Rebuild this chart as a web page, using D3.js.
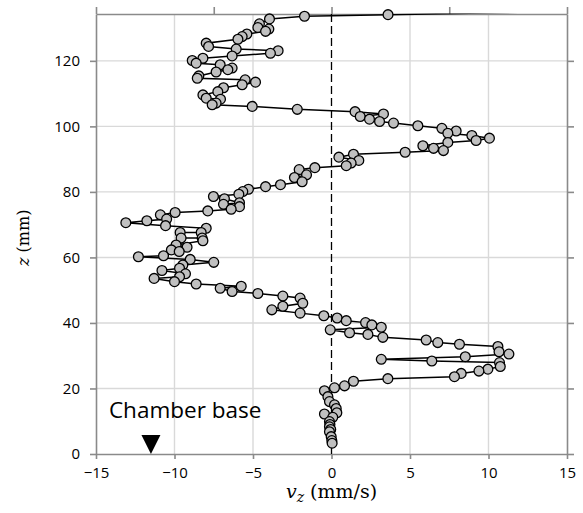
<!DOCTYPE html>
<html>
<head>
<meta charset="utf-8">
<script src="https://cdn.jsdelivr.net/npm/d3@7"></script>
<style>
  body { margin: 0; background: #fff; }
  svg { display: block; }
</style>
</head>
<body>
<div id="chart"></div>
<script>
// velocity profile, listed top of the column down to the base
const vz = [
  25, 3.6, -1.72, -3.95, -4.59, -4.69, -3.99, -4.2, -5.39, -5.69, -5.96,
  -7.98, -7.83, -6.07, -3.4, -3.89, -6.33, -8.19, -8.87, -8.62, -7.09,
  -6.33, -6.6, -7.35, -8.45, -8.55, -5.5, -4.84, -5.69, -6.88, -7.24,
  -8.19, -7.98, -7.07, -7.35, -7.6, -5.05, -2.18, 1.5, 3.31, 1.83,
  2.42, 3.06, 3.95, 5.5, 7.03, 7.94, 7.41, 8.94, 10.06, 9.21,
  7.41, 5.82, 6.5, 7.13, 4.69, 1.4, 0.47, 1.74, 1.25, 0.94,
  -1.06, -2.06, -1.59, -2.36, -1.87, -3.25, -4.2, -5.29, -5.65, -5.9,
  -7.52, -6.82, -5.86, -6.88, -5.86, -6.39, -7.88, -9.96, -10.9, -10.5,
  -11.76, -13.1, -10.57, -7.98, -8.3, -9.64, -9.58, -8.24, -8.19, -9.9,
  -9.2, -10.2, -9.7, -10.7, -12.3, -9.0, -7.5, -9.47, -9.68, -10.8,
  -9.3, -9.68, -11.3, -10.0, -8.62, -5.75, -7.09, -6.33, -4.69, -3.1,
  -2.0, -1.83, -3.1, -3.8, -2.0, -0.49, 0.36, 0.94, 2.17, 2.57,
  3.17, -0.08, 1.15, 2.32, 3.27, 6.03, 6.77, 8.15, 10.6, 10.67,
  11.3, 8.52, 3.17, 6.39, 10.7, 10.75, 9.96, 9.39, 8.26, 7.83,
  3.59, 1.4, 0.83, 0.19, -0.45, -0.23, -0.13, 0.19, 0.3, 0.34,
  -0.45, 0.08, -0.13, -0.1, -0.13, -0.05, -0.13, -0.02, 0.02, 0.04
];
const z = [
  136, 134.1, 133.6, 132.8, 131.3, 130.2, 129.7, 129.0, 128.2, 127.4, 126.6,
  125.4, 124.4, 123.6, 123.1, 122.3, 121.5, 120.8, 120.1, 119.3, 118.8,
  117.8, 117.3, 116.6, 115.4, 114.7, 114.2, 113.5, 112.7, 111.8, 110.6,
  109.6, 108.6, 108.3, 107.1, 106.6, 106.1, 105.2, 104.5, 103.8, 103.0,
  102.2, 101.5, 101.0, 100.2, 99.4, 98.6, 97.9, 97.2, 96.4, 95.7,
  95.1, 94.1, 93.3, 92.6, 92.1, 91.5, 90.6, 89.6, 88.8, 88.0,
  87.4, 86.8, 85.2, 84.4, 83.1, 82.2, 81.6, 80.8, 80.1, 79.3,
  78.6, 77.9, 76.7, 76.2, 75.5, 74.7, 74.2, 73.7, 73.0, 71.7,
  71.2, 70.6, 69.7, 68.9, 67.6, 67.6, 65.9, 65.9, 65.1, 63.8,
  63.1, 62.3, 61.8, 60.5, 60.2, 59.4, 58.5, 57.7, 56.7, 56.0,
  55.0, 54.1, 53.6, 52.6, 51.9, 51.2, 50.6, 49.6, 49.0, 48.2,
  47.6, 46.0, 45.1, 44.0, 43.0, 42.2, 41.5, 40.7, 40.1, 39.4,
  38.7, 37.9, 37.0, 36.5, 35.6, 34.8, 34.0, 33.5, 32.8, 31.2,
  30.5, 29.7, 28.9, 28.4, 27.9, 26.7, 25.9, 25.3, 24.6, 23.6,
  23.0, 22.2, 20.8, 20.2, 19.3, 17.5, 16.0, 15.0, 13.9, 12.6,
  12.2, 11.2, 9.9, 9.0, 8.3, 7.5, 6.8, 5.3, 4.1, 3.3
];

const baseVz = [-11.5];
const baseZ = [2.9];
const baseLabel = "Chamber base";

const xTicks = [-15, -10, -5, 0, 5, 10, 15];
const yTicks = [0, 20, 40, 60, 80, 100, 120];
const topTicks = [-15, -7.5, 0, 7.5, 15];

const W = 583, H = 513;
const margin = {top: 14, right: 16, bottom: 59, left: 96};
const width = W - margin.left - margin.right;
const height = H - margin.top - margin.bottom;

const svg = d3.select("#chart").append("svg")
  .attr("width", W)
  .attr("height", H);

const g = svg.append("g")
  .attr("transform", `translate(${margin.left},${margin.top})`);

const xScale = d3.scaleLinear().domain([-15, 15]).range([0, width]);
const yScale = d3.scaleLinear().domain([0, 134.3]).range([height, 0]);

const axisColor = "#8a8a8a";

// gridlines
g.append("g")
  .selectAll("line")
  .data(xTicks.filter(t => t !== -15 && t !== 15 && t !== 0))
  .enter().append("line")
  .attr("x1", d => xScale(d)).attr("x2", d => xScale(d))
  .attr("y1", 0).attr("y2", height)
  .attr("stroke", "#d9d9d9").attr("stroke-width", 1.4);

g.append("g")
  .selectAll("line")
  .data(yTicks.filter(t => t !== 0))
  .enter().append("line")
  .attr("x1", 0).attr("x2", width)
  .attr("y1", d => yScale(d)).attr("y2", d => yScale(d))
  .attr("stroke", "#d9d9d9").attr("stroke-width", 1.4);

// axes
const bottomAxis = g.append("g")
  .attr("transform", `translate(0,${height})`)
  .call(d3.axisBottom(xScale).tickValues(xTicks).tickSize(5).tickSizeOuter(0).tickPadding(8));

const leftAxis = g.append("g")
  .call(d3.axisLeft(yScale).tickValues(yTicks).tickSize(6).tickSizeOuter(0).tickPadding(10));

const topAxis = g.append("g")
  .call(d3.axisTop(xScale).tickValues(topTicks).tickSize(7).tickSizeOuter(0).tickFormat(""));

const rightAxis = g.append("g")
  .attr("transform", `translate(${width},0)`)
  .call(d3.axisRight(yScale).tickValues(yTicks).tickSize(7).tickSizeOuter(0).tickFormat(""));

[bottomAxis, leftAxis, topAxis, rightAxis].forEach(ax => {
  ax.attr("font-family", "Open Sans, sans-serif").attr("font-size", 15);
  ax.select(".domain").attr("stroke", axisColor).attr("stroke-width", 1.6);
  ax.selectAll(".tick line").attr("stroke", axisColor).attr("stroke-width", 1.6);
  ax.selectAll(".tick text").attr("fill", "#000");
});

// zero reference line
g.append("line")
  .attr("x1", xScale(0)).attr("x2", xScale(0))
  .attr("y1", yScale(0)).attr("y2", 0)
  .attr("stroke", "#000")
  .attr("stroke-width", 1.3)
  .attr("stroke-dasharray", "8,4");

// profile
const points = vz.map((v, i) => ({v: v, z: z[i]}));

svg.append("clipPath")
  .attr("id", "plot-clip")
  .append("rect")
  .attr("x", 0).attr("y", -0.6)
  .attr("width", width).attr("height", height + 0.6);

const line = d3.line()
  .x(d => xScale(d.v))
  .y(d => yScale(d.z));

g.append("path")
  .datum(points)
  .attr("clip-path", "url(#plot-clip)")
  .attr("fill", "none")
  .attr("stroke", "#000")
  .attr("stroke-width", 1.5)
  .attr("d", line);

g.append("g")
  .selectAll("circle")
  .data(points)
  .enter().append("circle")
  .attr("cx", d => xScale(d.v))
  .attr("cy", d => yScale(d.z))
  .attr("r", 4.9)
  .attr("fill", "#c0c0c0")
  .attr("stroke", "#000")
  .attr("stroke-width", 1.3);

// chamber base marker
g.append("g")
  .selectAll("path")
  .data(baseVz.map((v, i) => ({v: v, z: baseZ[i]})))
  .enter().append("path")
  .attr("transform", d => `translate(${xScale(d.v)},${yScale(d.z)})`)
  .attr("d", "M-9.5,-9.5L9.5,-9.5L0,9.5Z")
  .attr("fill", "#000");

g.append("text")
  .attr("x", xScale(baseVz[0]) - 42)
  .attr("y", yScale(baseZ[0]) - 26)
  .attr("font-family", "Open Sans, sans-serif")
  .attr("font-size", "22.5px")
  .attr("fill", "#000")
  .text(baseLabel);

// axis titles
const xTitle = svg.append("text")
  .attr("x", margin.left + xScale(0))
  .attr("y", 498)
  .attr("text-anchor", "middle")
  .attr("font-family", "DejaVu Serif, serif")
  .attr("font-size", "19px")
  .attr("fill", "#000");
xTitle.append("tspan").attr("font-style", "italic").text("v");
xTitle.append("tspan").attr("font-style", "italic").attr("font-size", "14px").attr("dy", 4).text("z");
xTitle.append("tspan").attr("dy", -4).text(" (mm/s)");

const yTitle = svg.append("text")
  .attr("transform", `translate(29,${margin.top + yScale(66)}) rotate(-90)`)
  .attr("text-anchor", "middle")
  .attr("font-family", "DejaVu Serif, serif")
  .attr("font-size", "16px")
  .attr("fill", "#000");
yTitle.append("tspan").attr("font-style", "italic").text("z");
yTitle.append("tspan").text(" (mm)");
</script>
</body>
</html>
